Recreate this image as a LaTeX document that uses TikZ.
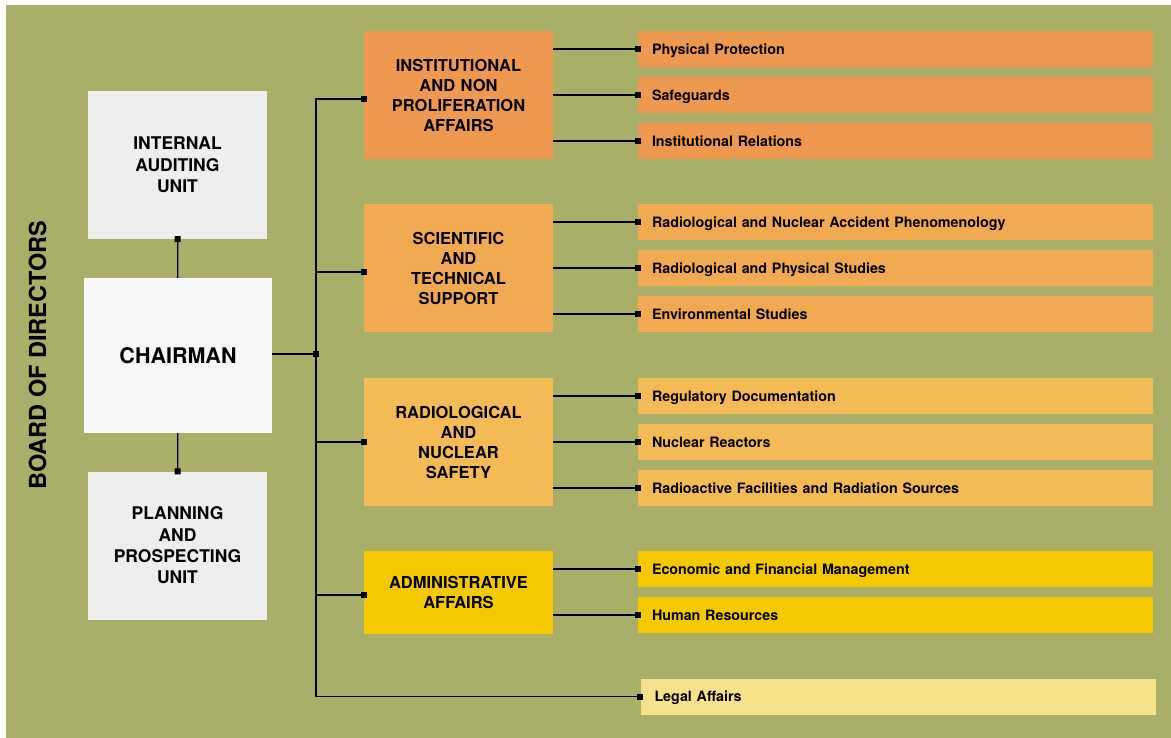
\documentclass[tikz,border=0pt]{standalone}
\usepackage{fontspec}
\setmainfont{TeX Gyre Heros}
\usetikzlibrary{arrows.meta}
\definecolor{boardgreen}{HTML}{A9AE69}
\definecolor{instorange}{HTML}{EF9850}
\definecolor{sciorange}{HTML}{F2AA52}
\definecolor{radorange}{HTML}{F4BA56}
\definecolor{admyellow}{HTML}{F4C900}
\definecolor{legalyellow}{HTML}{F8E18B}
\definecolor{unitgrey}{HTML}{EEEEEE}
\definecolor{chairgrey}{HTML}{F7F7F7}
\begin{document}
\begin{tikzpicture}[x=1pt, y=-1pt, node distance = 46pt,
    unit/.style={fill=unitgrey, text width=179pt, align=center, inner sep=0pt, minimum height=148pt, font=\bfseries\fontsize{17.5}{21.3}\selectfont},
    dept/.style={text width=189pt, align=center, inner sep=0pt, minimum height=128pt, font=\bfseries\fontsize{16.5}{20}\selectfont},
    sub/.style={text width=487pt, align=left, inner xsep=14pt, inner ysep=0pt, minimum height=36pt, text height=10.3pt, text depth=0pt, font=\bfseries\fontsize{14.3}{17}\selectfont},
    link/.style={-{Square[length=6pt,width=6pt]}, shorten >=-3pt, line width=1.2pt}]
    \useasboundingbox (0,0) rectangle (1171,738);
    \fill[boardgreen] (6,5) rectangle (1171,738);
    % left column
    \node (board) [rotate=90, font=\bfseries\fontsize{23.5}{28}\selectfont] at (37.5,355) {BOARD OF DIRECTORS};
    \node (audit) [unit] at (177.5,165) {INTERNAL\\AUDITING\\UNIT};
    \node (chair) [unit, fill=chairgrey, text width=188pt, minimum height=155pt, text height=15.5pt, text depth=-3pt, font=\bfseries\fontsize{21.5}{26}\selectfont] at (178,355.5) {CHAIRMAN};
    \node (plan) [unit] at (177.5,545.5) {PLANNING\\AND\\PROSPECTING\\UNIT};
    \coordinate (trunk) at (316,354);
    % departments
    \node (inst) [dept, fill=instorange] at (458.5,95) {INSTITUTIONAL\\AND NON\\PROLIFERATION\\AFFAIRS};
    \node (sci) [dept, fill=sciorange] at (458.5,268) {SCIENTIFIC\\AND\\TECHNICAL\\SUPPORT};
    \node (rad) [dept, fill=radorange] at (458.5,442) {RADIOLOGICAL\\AND\\NUCLEAR\\SAFETY};
    \node (adm) [dept, fill=admyellow, minimum height=83pt] at (458.5,592.5) {ADMINISTRATIVE\\AFFAIRS};
    % offices
    \node (pp) [sub, fill=instorange] at (895.5,49) {Physical Protection};
    \node (sg) [sub, fill=instorange, below of=pp] {Safeguards};
    \node (ir) [sub, fill=instorange, below of=sg] {Institutional Relations};
    \node (rnap) [sub, fill=sciorange] at (895.5,222) {Radiological and Nuclear Accident Phenomenology};
    \node (rps) [sub, fill=sciorange, below of=rnap] {Radiological and Physical Studies};
    \node (env) [sub, fill=sciorange, below of=rps] {Environmental Studies};
    \node (rdoc) [sub, fill=radorange] at (895.5,396) {Regulatory Documentation};
    \node (nr) [sub, fill=radorange, below of=rdoc] {Nuclear Reactors};
    \node (rfs) [sub, fill=radorange, below of=nr] {Radioactive Facilities and Radiation Sources};
    \node (efm) [sub, fill=admyellow] at (895.5,569) {Economic and Financial Management};
    \node (hr) [sub, fill=admyellow, below of=efm] {Human Resources};
    \node (legal) [sub, fill=legalyellow] at (898,696.5) {Legal Affairs};
    % connectors
    \draw[link] (chair) -- (audit);
    \draw[link] (chair) -- (plan);
    \draw[link] (chair.east |- trunk) -- (trunk);
    \draw[link] (trunk) |- ([yshift=-4pt]inst.west);
    \draw[link] (trunk) |- ([yshift=-4pt]sci.west);
    \draw[link] (trunk) |- (rad);
    \draw[link] (trunk) |- ([yshift=-2.5pt]adm.west);
    \draw[link] (trunk) |- (legal);
    \draw[link] (inst.east |- pp) -- (pp);
    \draw[link] (inst.east |- sg) -- (sg);
    \draw[link] (inst.east |- ir) -- (ir);
    \draw[link] (sci.east |- rnap) -- (rnap);
    \draw[link] (sci.east |- rps) -- (rps);
    \draw[link] (sci.east |- env) -- (env);
    \draw[link] (rad.east |- rdoc) -- (rdoc);
    \draw[link] (rad.east |- nr) -- (nr);
    \draw[link] (rad.east |- rfs) -- (rfs);
    \draw[link] (adm.east |- efm) -- (efm);
    \draw[link] (adm.east |- hr) -- (hr);
\end{tikzpicture}
\end{document}
